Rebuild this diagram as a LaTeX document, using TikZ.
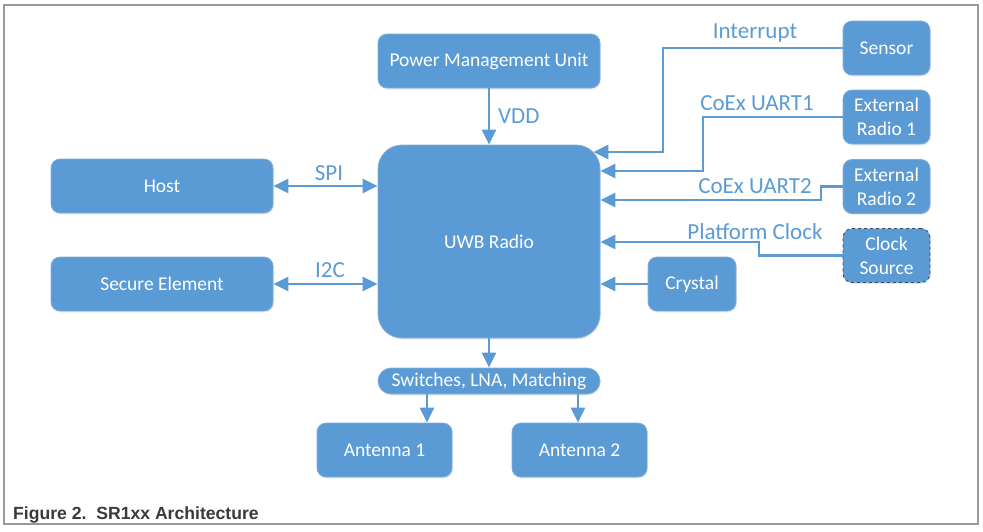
\documentclass[tikz,border=0pt]{standalone}
\usepackage{fontspec}
\setmainfont{Carlito}
\newfontfamily\capfont{Liberation Sans}
\usetikzlibrary{arrows.meta,shadows}
\definecolor{boxblue}{HTML}{5B9BD5}
\definecolor{boxline}{HTML}{7DAEDD}
\definecolor{darkdash}{HTML}{34495E}
\definecolor{framegray}{HTML}{9A9A9A}
\definecolor{captxt}{HTML}{3A3A3A}
\begin{document}
\begin{tikzpicture}[x=1pt,y=-1pt,
  blk/.style={draw=boxline, line width=0.8pt, fill=boxblue, rounded corners=9pt, text=white,
    font=\fontsize{19.5}{24}\selectfont, align=center, inner sep=0pt,
    minimum height=54pt,
    drop shadow={opacity=0.15, shadow xshift=1pt, shadow yshift=-1.5pt}},
  lbl/.style={text=boxblue, font=\fontsize{23}{26}\selectfont, inner sep=0pt, anchor=base},
  conn/.style={draw=boxblue, line width=2.5pt, -{Triangle[length=15pt,width=14pt]}},
  bconn/.style={draw=boxblue, line width=2.5pt, {Triangle[length=15pt,width=14pt]}-{Triangle[length=15pt,width=14pt]}}
]
\useasboundingbox (0,0) rectangle (983,531);
\draw[framegray, line width=1.5pt] (4,5) rectangle (978,524);

% nodes
\node[blk, minimum width=222pt] (pmu) at (489,61) {Power Management Unit};
\node[blk, minimum width=222pt, minimum height=193pt, rounded corners=24pt] (uwb) at (489,241.5) {UWB Radio};
\node[blk, minimum width=222pt] (host) at (162,186) {Host};
\node[blk, minimum width=222pt] (se) at (162,284) {Secure Element};
\node[blk, minimum width=87pt] (sensor) at (886.5,48) {Sensor};
\node[blk, minimum width=87pt] (er1) at (886.5,117) {External\\Radio 1};
\node[blk, minimum width=87pt] (er2) at (886.5,186.5) {External\\Radio 2};
\node[blk, minimum width=87pt, draw=darkdash, dashed] (clk) at (886.5,255.5) {Clock\\Source};
\node[blk, minimum width=88pt] (xtal) at (692,284) {Crystal};
\node[blk, minimum width=222pt, minimum height=26pt, rounded corners=13pt] (sw) at (489,381) {Switches, LNA, Matching};
\node[blk, minimum width=135pt] (ant1) at (384.5,450) {Antenna 1};
\node[blk, minimum width=135pt] (ant2) at (579.5,450) {Antenna 2};

% labels
\node[lbl, anchor=base west] (vdd) at (498,123) {VDD};
\node[lbl] (spi) at (329,180) {SPI};
\node[lbl] (i2c) at (330,277) {I2C};
\node[lbl] (intr) at (755,38) {Interrupt};
\node[lbl] (u1) at (757,110) {CoEx UART1};
\node[lbl] (u2) at (755,193) {CoEx UART2};
\node[lbl] (pclk) at (755,239) {Platform Clock};

% connectors
\draw[conn] (pmu.south) -- (uwb.north);
\draw[bconn] (host.east) -- (uwb.west |- host.east);
\draw[bconn] (se.east) -- (uwb.west |- se.east);
\draw[conn] (sensor.west) -- (663,48) -- (663,152) -- ([xshift=-7pt]uwb.east |- 0,152);
\draw[conn] (er1.west) -- (703,117) -- (703,171) -- (uwb.east |- 0,171);
\draw[conn] (er2.west) -- (821,186.5) -- (821,200) -- (uwb.east |- 0,200);
\draw[conn] (clk.west) -- (759,255.5) -- (759,242) -- (uwb.east |- 0,242);
\draw[conn] (xtal.west) -- (uwb.east |- xtal.west);
\draw[conn] (uwb.south) -- (sw.north);
\draw[conn] (sw.south -| ant1.north) ++(42.5,0) -- ([xshift=42.5pt]ant1.north);
\draw[conn] ([xshift=-1.5pt]sw.south -| ant2.north) -- ([xshift=-1.5pt]ant2.north);

% caption
\node[anchor=base west, font=\capfont\bfseries\fontsize{17.6}{20}\selectfont, text=captxt, inner sep=0pt] (cap) at (13,519) {Figure 2.\ \ SR1xx Architecture};
\end{tikzpicture}
\end{document}
